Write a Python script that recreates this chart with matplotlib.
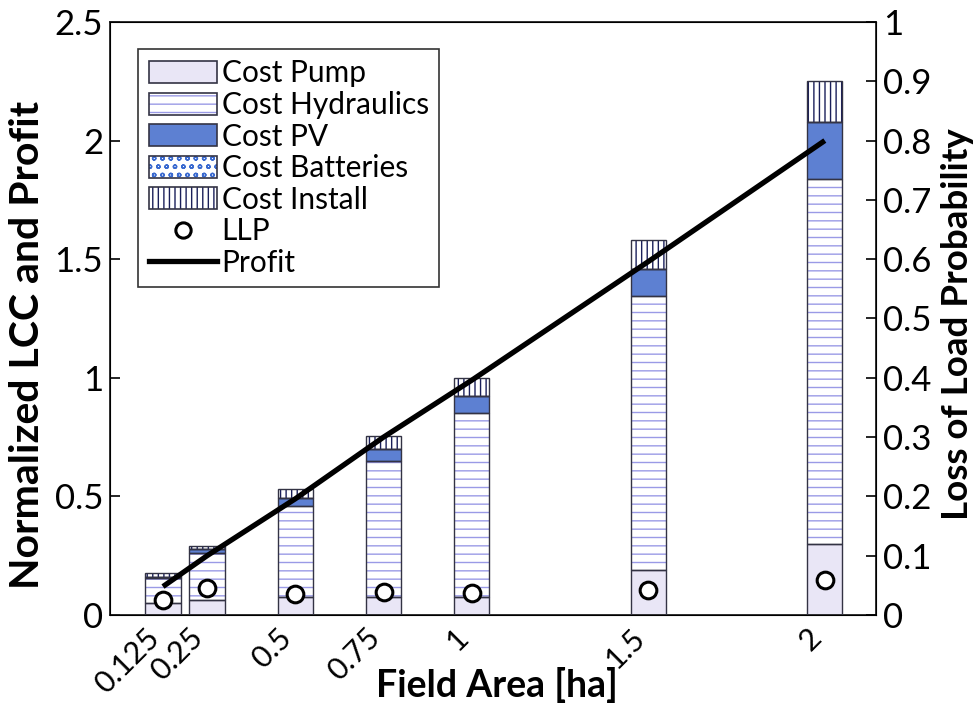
import matplotlib.pyplot as plt
import matplotlib.patches as mpatches
import matplotlib.transforms as mtransforms
from matplotlib.lines import Line2D
import numpy as np

plt.rcParams['font.family'] = ['Lato', 'DejaVu Sans']
plt.rcParams['hatch.linewidth'] = 1.0

# data
areas = [0.125, 0.25, 0.5, 0.75, 1.0, 1.5, 2.0]
area_labels = ['0.125', '0.25', '0.5', '0.75', '1', '1.5', '2']
cost_pump = [0.05, 0.063, 0.075, 0.075, 0.075, 0.19, 0.30]
cost_hydraulics = [0.105, 0.20, 0.385, 0.575, 0.775, 1.155, 1.54]
cost_pv = [0.006, 0.015, 0.035, 0.05, 0.075, 0.115, 0.24]
cost_batteries = [0, 0, 0, 0, 0, 0, 0]
cost_install = [0.015, 0.012, 0.035, 0.056, 0.075, 0.12, 0.17]
llp = [0.025, 0.045, 0.035, 0.039, 0.037, 0.042, 0.059]
profit = [0.12, 0.25, 0.49, 0.75, 0.99, 1.49, 2.0]

edge = '#333344'
styles = [
    ('Cost Pump', cost_pump, dict(facecolor='#e9e6f6', hatch=None, hcolor='#e9e6f6')),
    ('Cost Hydraulics', cost_hydraulics, dict(facecolor='white', hatch='--', hcolor='#9a9ae6')),
    ('Cost PV', cost_pv, dict(facecolor='#5d80d2', hatch=None, hcolor='#5d80d2')),
    ('Cost Batteries', cost_batteries, dict(facecolor='white', hatch='oo', hcolor='#3a6ad0')),
    ('Cost Install', cost_install, dict(facecolor='white', hatch='|||', hcolor='#1a1f5a')),
]

fig = plt.figure(figsize=(9.78, 7.04), dpi=100)
ax = fig.add_axes([0.1125, 0.1264, 0.7832, 0.8424])

width = 0.1
bottom = np.zeros(len(areas))
handles = []
for name, vals, st in styles:
    vals = np.array(vals)
    ax.bar(areas, vals, width, bottom=bottom, color=st['facecolor'],
           hatch=st['hatch'], edgecolor=st['hcolor'], linewidth=0, zorder=2)
    ax.bar(areas, vals, width, bottom=bottom, fill=False,
           edgecolor=edge, linewidth=1.0, zorder=3)
    bottom = bottom + vals
    h = mpatches.Patch(facecolor=st['facecolor'], hatch=st['hatch'],
                       edgecolor=st['hcolor'], linewidth=0)
    h2 = mpatches.Patch(fill=False, edgecolor=edge, linewidth=1.2)
    handles.append((h, h2))

ax.plot(areas, profit, color='black', linewidth=3.8, zorder=4,
        solid_capstyle='butt')

ax.set_xlim(-0.025, 2.145)
ax.set_ylim(0, 2.5)
ax.set_yticks([0, 0.5, 1, 1.5, 2, 2.5])
ax.set_yticklabels(['0', '0.5', '1', '1.5', '2', '2.5'])
ax.set_xticks(areas)
ax.set_xticklabels(area_labels, rotation=45, ha='right', va='center',
                   rotation_mode='anchor')
ax.tick_params(direction='in', labelsize=25, width=1.2, length=7)
ax.tick_params(axis='x', pad=13, labelsize=22)
ax.tick_params(axis='y', right=False, pad=5)
shift = mtransforms.ScaledTranslation(-6 / 72, 0, fig.dpi_scale_trans)
for lab in ax.get_xticklabels():
    lab.set_transform(lab.get_transform() + shift)
ax.set_xlabel('Field Area [ha]', fontsize=27, fontweight='bold')
ax.xaxis.set_label_coords(0.505, -0.087)
ax.set_ylabel('Normalized LCC and Profit', fontsize=29.5, fontweight='bold')
ax.yaxis.set_label_coords(-0.083, 0.456)
for s in ax.spines.values():
    s.set_linewidth(1.3)
    s.set_color('#222222')

ax2 = ax.twinx()
ax2.plot(areas, llp, 'o', markersize=12, markerfacecolor='white',
         markeredgecolor='black', markeredgewidth=2.2, zorder=5)
ax2.set_ylim(0, 1)
ax2.set_yticks(np.arange(0, 1.01, 0.1))
ax2.set_yticklabels(['0', '0.1', '0.2', '0.3', '0.4', '0.5', '0.6', '0.7', '0.8', '0.9', '1'])
ax2.tick_params(direction='in', labelsize=25, width=1.2, length=7, pad=5)
ax2.set_ylabel('Loss of Load Probability', fontsize=26.5, fontweight='bold')
ax2.yaxis.set_label_coords(1.085, 0.49)

llp_h = Line2D([], [], linestyle='none', marker='o', markersize=11,
               markerfacecolor='white', markeredgecolor='black', markeredgewidth=2.2)
profit_h = Line2D([], [], color='black', linewidth=3.8)
labels = [s[0] for s in styles] + ['LLP', 'Profit']
leg = ax2.legend(handles + [llp_h, profit_h], labels, loc='upper left',
                 bbox_to_anchor=(0.0366, 0.9545), fontsize=21.5, frameon=True,
                 fancybox=False, edgecolor='black', handlelength=2.3,
                 handleheight=0.75, handletextpad=0.15, labelspacing=0.12,
                 borderpad=0.35, borderaxespad=0)
leg.get_frame().set_linewidth(1.2)

plt.savefig('out.png', dpi=100)
